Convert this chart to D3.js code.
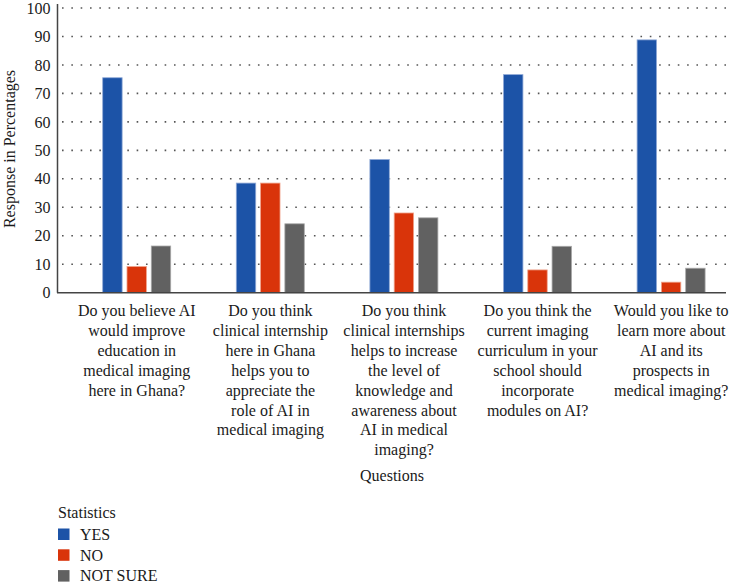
<!DOCTYPE html>
<html>
<head>
<meta charset="utf-8">
<script src="https://cdn.jsdelivr.net/npm/d3@7"></script>
</head>
<body style="margin:0;padding:0;background:#fff">
<svg id="chart" width="730" height="584" style="display:block"></svg>
<script>
const categories = [
  ["Do you believe AI", "would improve", "education in", "medical imaging", "here in Ghana?"],
  ["Do you think", "clinical internship", "here in Ghana", "helps you to", "appreciate the", "role of AI in", "medical imaging"],
  ["Do you think", "clinical internships", "helps to increase", "the level of", "knowledge and", "awareness about", "AI in medical", "imaging?"],
  ["Do you think the", "current imaging", "curriculum in your", "school should", "incorporate", "modules on AI?"],
  ["Would you like to", "learn more about", "AI and its", "prospects in", "medical imaging?"]
];
const seriesNames = ["YES", "NO", "NOT SURE"];
const yesValues = [75.5, 38.5, 46.8, 76.6, 88.8];
const noValues = [9.2, 38.5, 28.0, 8.0, 3.7];
const notSureValues = [16.4, 24.2, 26.3, 16.3, 8.6];
const yTicks = [0, 10, 20, 30, 40, 50, 60, 70, 80, 90, 100];
const colors = ["#1c53a7", "#d9340a", "#616161"];
const strokeColors = ["#8fa9d6", "#f0a48c", "#a9a9a9"];

const FONT = "'Liberation Serif', 'Times New Roman', serif";
const series = [yesValues, noValues, notSureValues];
const svg = d3.select("#chart");

const y = d3.scaleLinear().domain([0, 100]).range([292.7, 8]);
const x0 = d3.scaleBand().domain(d3.range(categories.length)).range([70, 738]).paddingInner(0).paddingOuter(0);
const x1 = d3.scaleBand().domain(d3.range(seriesNames.length)).range([32.7, 100.7]).paddingInner(0.2).paddingOuter(0);

// gridlines
svg.append("g").selectAll("line")
  .data(yTicks.filter(d => d > 0))
  .join("line")
  .attr("x1", 62).attr("x2", 730)
  .attr("y1", d => y(d)).attr("y2", d => y(d))
  .attr("stroke", "#555")
  .attr("stroke-width", 1.6)
  .attr("stroke-dasharray", "1.6,7.73");

// bars
const groups = svg.append("g").selectAll("g")
  .data(categories.map((c, i) => i))
  .join("g")
  .attr("transform", i => `translate(${x0(i)},0)`);

groups.selectAll("rect")
  .data(i => series.map((s, k) => ({ k, v: s[i] })))
  .join("rect")
  .attr("x", d => x1(d.k))
  .attr("width", x1.bandwidth())
  .attr("y", d => y(d.v))
  .attr("height", d => y(0) - y(d.v))
  .attr("fill", d => colors[d.k])
  .attr("stroke", d => strokeColors[d.k])
  .attr("stroke-width", 0.8);

// y axis
const yAxis = d3.axisLeft(y).tickValues(yTicks).tickSize(0).tickPadding(7).tickFormat(d3.format("d"));
const yg = svg.append("g").attr("transform", "translate(57.5,0)").call(yAxis);
yg.select(".domain").remove();
yg.attr("font-family", null).attr("font-size", null);
yg.selectAll("text").style("font-family", FONT).style("font-size", "16px").attr("fill", "#1a1a1a");
svg.append("line").attr("x1", 57.5).attr("x2", 57.5).attr("y1", 4).attr("y2", y(0))
  .attr("stroke", "#444").attr("stroke-width", 1.5);
svg.append("line").attr("x1", 57).attr("x2", 726).attr("y1", y(0)).attr("y2", y(0))
  .attr("stroke", "#444").attr("stroke-width", 1.6);

function txt(sel) {
  return sel.style("font-family", FONT).style("font-size", "16px").attr("fill", "#1a1a1a");
}

// y title
txt(svg.append("text"))
  .attr("transform", "translate(15,149) rotate(-90)")
  .attr("text-anchor", "middle")
  .text("Response in Percentages");

// category labels
const lineH = 19.9;
categories.forEach((lines, i) => {
  const cx = x0(i) + x0.bandwidth() / 2;
  const t = txt(svg.append("text")).attr("text-anchor", "middle");
  lines.forEach((ln, j) => {
    t.append("tspan").attr("x", cx).attr("y", 316 + j * lineH).text(ln);
  });
});

// x title
txt(svg.append("text"))
  .attr("x", 392).attr("y", 480.5)
  .attr("text-anchor", "middle")
  .text("Questions");

// legend
txt(svg.append("text")).attr("x", 58).attr("y", 518).text("Statistics");
const lg = svg.append("g").selectAll("g")
  .data(seriesNames.map((n, k) => k))
  .join("g")
  .attr("transform", k => `translate(58,${528.5 + k * 20.8})`);
lg.append("rect").attr("width", 11.5).attr("height", 11.5).attr("fill", k => colors[k]);
txt(lg.append("text")).attr("x", 22).attr("y", 11.2).text(k => seriesNames[k]);
</script>
</body>
</html>
